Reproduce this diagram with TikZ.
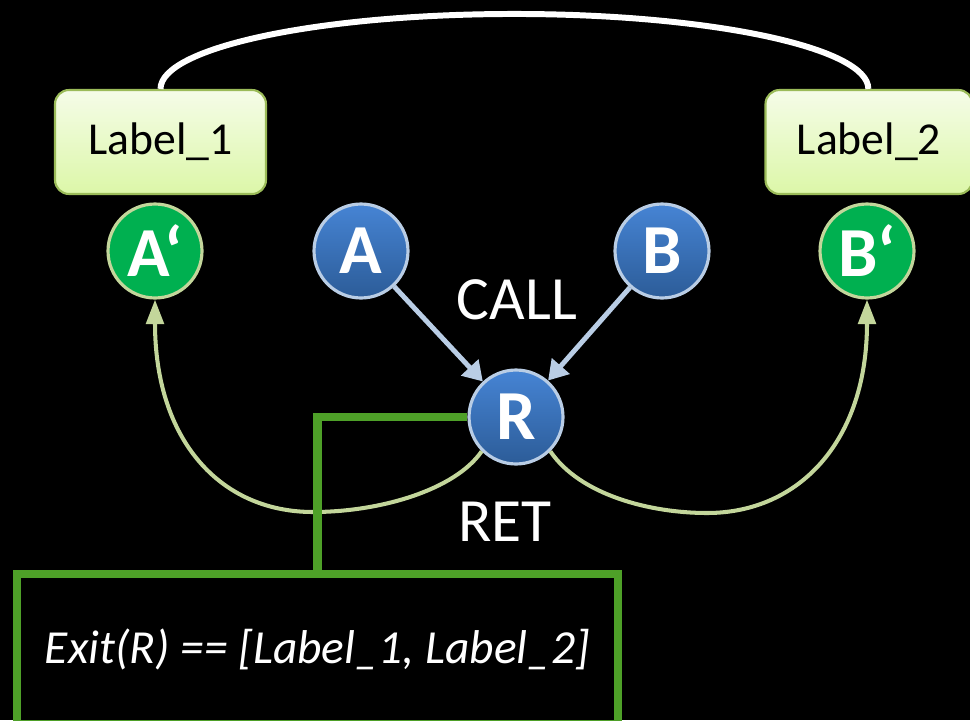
\documentclass[tikz,border=0pt]{standalone}
\usepackage{fontspec}
\setmainfont{Carlito}
\usetikzlibrary{arrows.meta}

\definecolor{callblue}{RGB}{185,205,229}
\definecolor{retgreen}{RGB}{195,214,155}
\definecolor{exitgreen}{RGB}{78,160,40}
\definecolor{nodegreen}{RGB}{0,176,80}
\definecolor{topblue}{RGB}{70,132,212}
\definecolor{botblue}{RGB}{44,92,152}
\definecolor{labeltop}{RGB}{245,252,232}
\definecolor{labelbot}{RGB}{220,247,168}
\definecolor{labelline}{RGB}{155,187,89}

\begin{document}
\begin{tikzpicture}[x=0.02cm, y=-0.02cm,
    labelbox/.style={draw=labelline, line width=1.2pt, rounded corners=0.28cm,
        top color=labeltop, bottom color=labelbot, minimum width=4.22cm,
        minimum height=2.08cm, font=\fontsize{26}{30}\selectfont},
    bluenode/.style={circle, draw=callblue, line width=1.8pt, top color=topblue,
        bottom color=botblue, minimum size=1.88cm, inner sep=0pt, text=white,
        font=\bfseries\fontsize{40}{44}\selectfont},
    greennode/.style={circle, draw=retgreen, line width=1.8pt, fill=nodegreen,
        minimum size=1.88cm, inner sep=0pt, text=white,
        font=\bfseries\fontsize{40}{44}\selectfont},
    callarrow/.style={callblue, line width=2.8pt, -{Triangle[length=11pt,width=13pt]}},
    retarrow/.style={retgreen, line width=2.3pt, -{Triangle[length=14pt,width=10pt]}},
    bigtext/.style={text=white, font=\fontsize{35}{40}\selectfont}]
    % background and page size
    \path[use as bounding box, fill=black] (0,0) rectangle (970,720);

    % labels and the jump between them
    \node[labelbox] (label1) at (160.5,142) {Label\_1};
    \node[labelbox, minimum width=4.14cm] (label2) at (869,142) {Label\_2};
    \draw[white, line width=3.4pt]
        (label1.north) arc[start angle=180, end angle=0, x radius=7.08cm, y radius=1.5cm];

    % blocks
    \node[greennode] (aprime) at (155,251) {A‘};
    \node[bluenode] (a) at (361,251) {A};
    \node[bluenode] (b) at (662,251) {B};
    \node[greennode] (bprime) at (867,251) {B‘};
    \node[bluenode] (r) at (516,417) {R};

    % call edges
    \draw[callarrow] (a) -- (r);
    \draw[callarrow] (b) -- (r);
    \node[bigtext] (call) at (517,300) {CALL};

    % return edges
    \draw[retarrow] (r.225) .. controls (455,490) and (380,512) .. (313,512)
        .. controls (220,512) and (155,440) .. (aprime.south);
    \draw[retarrow] (r.-45) .. controls (580,495) and (650,513) .. (707,513)
        .. controls (800,513) and (867,440) .. (bprime.south);
    \node[bigtext] (ret) at (505,522) {RET};

    % exit annotation
    \node[draw=exitgreen, line width=5pt, fill=black, minimum width=12.02cm,
        minimum height=3cm, text=white, font=\itshape\fontsize{27}{31}\selectfont]
        (exit) at (317.5,649) {Exit(R) == [Label\_1, Label\_2]};
    \draw[exitgreen, line width=5pt] (r.west) -| (exit.north);
\end{tikzpicture}
\end{document}
